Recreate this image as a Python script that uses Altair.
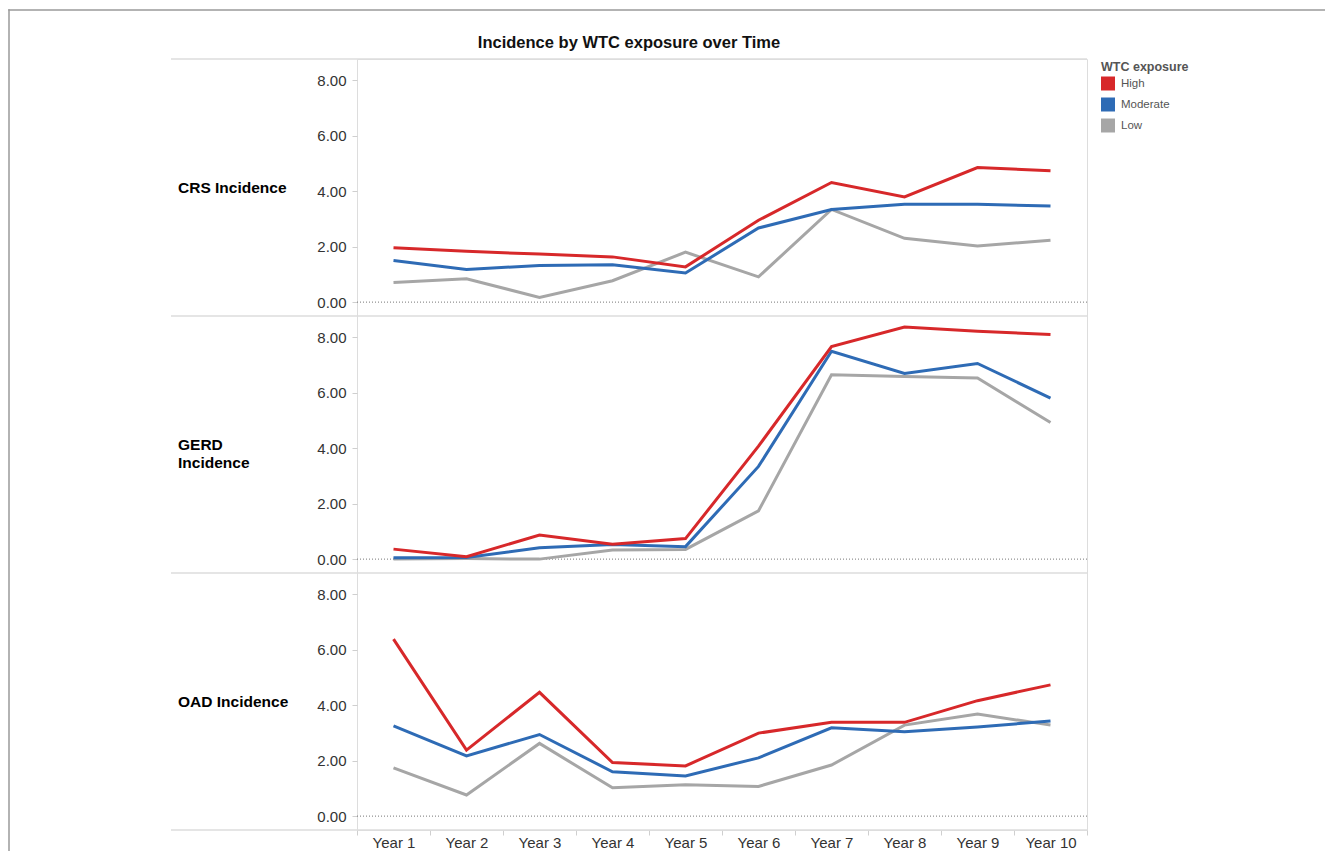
import altair as alt
import pandas as pd

years = [f"Year {i}" for i in range(1, 11)]
levels = ["High", "Moderate", "Low"]
level_colors = ["#D7282A", "#2E6BB5", "#A6A6A6"]
draw_order = ["Low", "Moderate", "High"]
conditions = ["CRS", "GERD", "OAD"]

crs_high = [1.96, 1.83, 1.73, 1.63, 1.27, 2.95, 4.31, 3.79, 4.85, 4.73]
crs_moderate = [1.50, 1.18, 1.32, 1.35, 1.05, 2.67, 3.34, 3.53, 3.53, 3.46]
crs_low = [0.71, 0.84, 0.17, 0.77, 1.80, 0.91, 3.34, 2.30, 2.02, 2.23]

gerd_high = [0.36, 0.09, 0.87, 0.54, 0.74, 4.07, 7.66, 8.36, 8.21, 8.09]
gerd_moderate = [0.05, 0.06, 0.41, 0.53, 0.45, 3.34, 7.49, 6.69, 7.05, 5.80]
gerd_low = [0.00, 0.02, 0.00, 0.33, 0.35, 1.74, 6.64, 6.58, 6.53, 4.92]

oad_high = [6.38, 2.38, 4.46, 1.93, 1.81, 2.99, 3.38, 3.38, 4.16, 4.73]
oad_moderate = [3.25, 2.17, 2.94, 1.60, 1.45, 2.10, 3.18, 3.04, 3.21, 3.43]
oad_low = [1.74, 0.76, 2.62, 1.02, 1.13, 1.07, 1.84, 3.28, 3.68, 3.28]

row_labels = ["CRS Incidence", "GERD\nIncidence", "OAD Incidence"]
title_text = "Incidence by WTC exposure over Time"
y_ticks = [0, 2, 4, 6, 8]

FONT = "Liberation Sans"
W, H = 730, 771
SPAN = 9.26          # each panel covers -0.5 .. 8.76
PAD_LOW = 0.5
offsets = {"CRS": 2 * SPAN, "GERD": SPAN, "OAD": 0.0}
LINE_C = "#dcdcdc"
BORDER_C = "#9a9a9a"

series = {
    "CRS": {"High": crs_high, "Moderate": crs_moderate, "Low": crs_low},
    "GERD": {"High": gerd_high, "Moderate": gerd_moderate, "Low": gerd_low},
    "OAD": {"High": oad_high, "Moderate": oad_moderate, "Low": oad_low},
}

rows = []
for lvl in draw_order:
    for cond in conditions:
        for yr, v in zip(years, series[cond][lvl]):
            rows.append({"Condition": cond, "Year": yr, "Exposure": lvl, "Incidence": v})
df = pd.DataFrame(rows)

offset_expr = ("(datum.Condition === 'CRS' ? %r : datum.Condition === 'GERD' ? %r : 0)"
               % (offsets["CRS"], offsets["GERD"]))

tick_values = [round(offsets[c] + PAD_LOW + t, 4) for c in conditions for t in y_ticks]
label_expr = ("format(abs(datum.value - 0.5 - (datum.value > 18 ? %r : datum.value > 9 ? %r : 0)), '.2f')"
              % (offsets["CRS"], offsets["GERD"]))

y_scale = alt.Scale(domain=[0, 3 * SPAN], nice=False, zero=False)
y_axis = alt.Axis(values=tick_values, labelExpr=label_expr, title=None,
                  labelFontSize=15, labelColor="#333", labelFont=FONT,
                  tickColor="#cfcfcf", tickSize=5, domain=False, grid=False,
                  labelPadding=6, labelOverlap=False)
x_enc = alt.X("Year:N", sort=years,
              scale=alt.Scale(type="band", paddingInner=0, paddingOuter=0),
              bandPosition=0.5,
              axis=alt.Axis(title=None, labelAngle=0, labelFontSize=15, labelColor="#333",
                            labelFont=FONT, tickBand="extent", tickColor="#cfcfcf",
                            tickSize=5, domain=False, grid=False, labelPadding=0))
color_scale = alt.Scale(domain=levels, range=level_colors)

base = alt.Chart(df).transform_calculate(
    yc="datum.Incidence + %r + %s" % (PAD_LOW, offset_expr)
)

legend_layer = base.mark_square(filled=True, opacity=1).encode(
    x=x_enc,
    y=alt.Y("yc:Q", scale=y_scale, axis=y_axis),
    color=alt.Color("Exposure:N", scale=color_scale,
                    legend=alt.Legend(title="WTC exposure", orient="none",
                                      legendX=744, legendY=2, padding=0,
                                      titleFontSize=12.5, titleFontWeight="bold",
                                      titleColor="#555", titleFont=FONT,
                                      titlePadding=3, labelFontSize=11.5,
                                      labelColor="#555", labelFont=FONT,
                                      symbolType="square", symbolSize=196,
                                      symbolStrokeWidth=0, symbolOpacity=1,
                                      rowPadding=7, labelOffset=6)),
).transform_filter("false")

lines = base.mark_line(strokeWidth=3).encode(
    x=x_enc,
    y=alt.Y("yc:Q", scale=y_scale, axis=y_axis),
    color=alt.Color("Exposure:N", scale=color_scale),
    detail=["Condition:N", "Exposure:N"],
)

bounds_df = pd.DataFrame({"b": [0, SPAN, 2 * SPAN, 3 * SPAN]})
dividers = alt.Chart(bounds_df).mark_rule(color=LINE_C, strokeWidth=1.5).encode(
    x=alt.value(-186), x2=alt.value(W), y=alt.Y("b:Q", scale=y_scale)
)

zero_df = pd.DataFrame({"z": [offsets[c] + PAD_LOW for c in conditions]})
zeros = alt.Chart(zero_df).mark_rule(color="#777", strokeWidth=1, strokeDash=[1, 2]).encode(
    y=alt.Y("z:Q", scale=y_scale)
)

label_df = pd.DataFrame({"label": row_labels,
                         "yl": [offsets[c] + SPAN / 2 for c in conditions]})
labels = alt.Chart(label_df).mark_text(
    align="left", baseline="middle", fontSize=15.5, fontWeight="bold",
    font=FONT, color="#000", lineBreak="\n", lineHeight=18
).encode(x=alt.value(-179), y=alt.Y("yl:Q", scale=y_scale), text="label:N")

one = pd.DataFrame({"k": [0]})
left_border = alt.Chart(one).mark_rect(color=BORDER_C).encode(
    x=alt.value(-348.75), x2=alt.value(-347.25), y=alt.value(-49.75), y2=alt.value(H + 21)
)
top_border = alt.Chart(one).mark_rect(color=BORDER_C).encode(
    x=alt.value(-348.75), x2=alt.value(968), y=alt.value(-49.75), y2=alt.value(-48.25)
)
title = alt.Chart(pd.DataFrame({"t": [title_text]})).mark_text(
    align="center", baseline="middle", fontSize=16.5, fontWeight="bold",
    font=FONT, color="#111"
).encode(x=alt.value(272), y=alt.value(-16), text="t:N")

chart = alt.layer(
    legend_layer, dividers, zeros, lines, labels, left_border, top_border, title
).properties(
    width=W, height=H,
    padding={"left": 0, "top": 1, "right": 5, "bottom": 0},
).configure_view(stroke="#d9d9d9", strokeWidth=1.2).configure(background="white")

chart.save("out.html", embed_options={"renderer": "svg", "actions": False})
